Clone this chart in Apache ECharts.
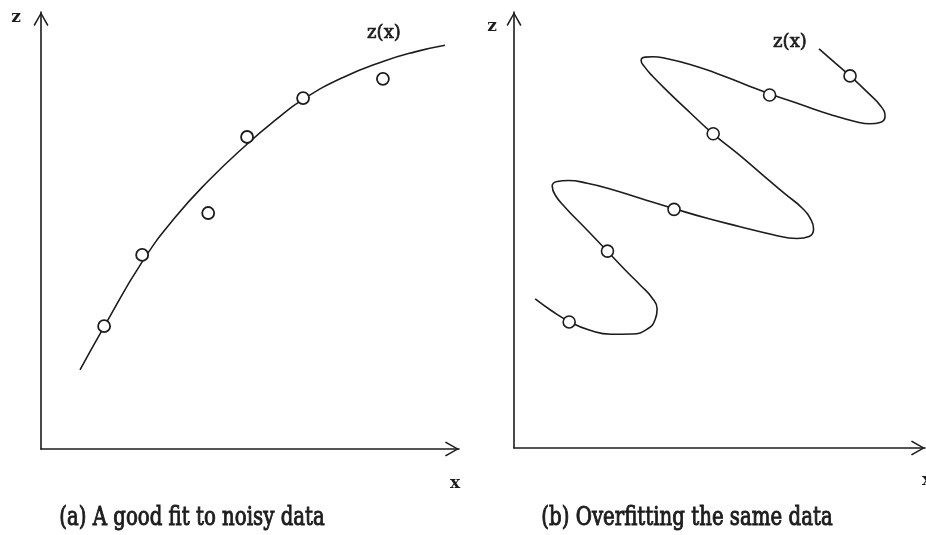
<!DOCTYPE html>
<html>
<head>
<meta charset="utf-8">
<style>
  html, body { margin: 0; padding: 0; background: #fff; }
  #chart { width: 926px; height: 535px; }
</style>
<script src="https://cdn.jsdelivr.net/npm/echarts@6/dist/echarts.min.js"></script>
</head>
<body>
<div id="chart"></div>
<script>
// Noisy observations (shared by both panels)
const pointX = [15.1, 24.2, 40.0, 49.3, 62.7, 81.8];
const pointZ = [28.1, 44.4, 54.0, 71.4, 80.3, 84.7];

// (a) smooth, well-behaved fit
const goodFitX = [9.33, 15.07, 24.16, 32.06, 39.95, 49.28, 55.98, 62.68, 72.25, 81.82, 89.47, 96.65];
const goodFitZ = [18.08, 27.96, 42.75, 52.95, 61.26, 69.74, 75.18, 79.99, 85.02, 88.68, 90.88, 92.39];

// (b) over-fitted curve that loops back and forth through every observation
const overFitX = [7.03, 10.83, 15.10, 19.85, 25.07, 30.06, 33.86, 35.52, 35.99, 34.81,
  31.96, 28.87, 23.89, 18.9, 14.16, 11.78, 11.07, 12.26, 14.87, 19.38,
  24.84, 31.96, 40.27, 47.86, 55.69, 63.29, 69.22, 72.07, 73.14, 72.55,
  70.41, 66.37, 60.68, 54.98, 49.28, 43.83, 38.6, 34.81, 33.03, 32.19,
  33.14, 35.04, 37.89, 43.83, 50.47, 56.88, 62.81, 69.94, 77.06, 82.99,
  86.55, 88.92, 90.11, 89.16, 85.84, 81.8, 78.24, 74.44];
const overFitZ = [33.38, 30.74, 28.21, 26.25, 25.26, 25.33, 26.6, 28.67, 31.08, 33.61,
  36.61, 39.6, 44.66, 49.72, 54.44, 57.31, 59.39, 60.42, 60.65, 60.01,
  58.7, 56.56, 54.09, 51.95, 50.02, 48.23, 47.3, 47.77, 49.49, 51.56,
  54.32, 57.54, 62.24, 66.93, 71.35, 76.23, 81.04, 84.72, 86.77, 88.26,
  89.02, 89.11, 88.77, 87.34, 85.16, 82.74, 80.55, 78.18, 75.84, 74.23,
  73.7, 74.0, 75.38, 77.68, 81.01, 84.7, 87.69, 90.91];

const captionA = '(a) A good fit to noisy data';
const captionB = '(b) Overfitting the same data';
const curveName = 'z(x)';
const xName = 'x';
const zName = 'z';

const ink = '#1c1c1c';
const serif = '"DejaVu Serif", "Liberation Serif", serif';
// open chevron arrow head (points up before the axis rotates it)
const chevron = 'path://M8,0 L16,14 L14.6,15 L8,3 L1.4,15 L0,14 Z';

function zip(xs, ys) { return xs.map((x, i) => [x, ys[i]]); }

function axisBase(min, max) {
  return {
    type: 'value', min: min, max: max,
    axisLine: {
      show: true, onZero: false,
      symbol: ['none', chevron], symbolSize: [15, 15], symbolOffset: [0, -7],
      lineStyle: { color: ink, width: 1.6 }
    },
    axisTick: { show: false }, axisLabel: { show: false }, splitLine: { show: false }
  };
}

// free-standing text; a thin outline in the ink colour gives a medium weight
function label(text, x, y, size, weight, sx, outline) {
  return {
    type: 'text', x: x, y: y, scaleX: sx || 1, z: 100,
    style: {
      text: text, fill: ink,
      stroke: outline ? ink : null, lineWidth: outline || 0,
      font: (weight || 'normal') + ' ' + size + 'px ' + serif,
      align: 'center', verticalAlign: 'middle'
    }
  };
}

const chart = echarts.init(document.getElementById('chart'), null, { renderer: 'canvas' });
chart.setOption({
  backgroundColor: '#ffffff',
  animation: false,
  grid: [
    { left: 41, top: 12, width: 418, height: 437 },
    { left: 514, top: 12, width: 411, height: 436 }
  ],
  xAxis: [
    Object.assign(axisBase(0, 100), { gridIndex: 0 }),
    Object.assign(axisBase(2, 99.6), { gridIndex: 1 })
  ],
  yAxis: [
    Object.assign(axisBase(0, 100), { gridIndex: 0 }),
    Object.assign(axisBase(-0.9, 99.4), { gridIndex: 1 })
  ],
  series: [
    {
      type: 'line', xAxisIndex: 0, yAxisIndex: 0, data: zip(goodFitX, goodFitZ),
      smooth: 0.5, showSymbol: false, silent: true,
      lineStyle: { color: ink, width: 1.6 }
    },
    {
      type: 'line', xAxisIndex: 1, yAxisIndex: 1, data: zip(overFitX, overFitZ),
      smooth: 0.5, showSymbol: false, silent: true,
      lineStyle: { color: ink, width: 1.6 }
    },
    {
      type: 'scatter', xAxisIndex: 0, yAxisIndex: 0, data: zip(pointX, pointZ),
      symbol: 'circle', symbolSize: 12, z: 5,
      itemStyle: { color: '#ffffff', borderColor: ink, borderWidth: 1.8, opacity: 1 }
    },
    {
      type: 'scatter', xAxisIndex: 1, yAxisIndex: 1, data: zip(pointX, pointZ),
      symbol: 'circle', symbolSize: 12, z: 5,
      itemStyle: { color: '#ffffff', borderColor: ink, borderWidth: 1.6, opacity: 1 }
    }
  ],
  graphic: [
    label(zName, 16, 18, 17, 'bold'),
    label(zName, 492, 27, 17, 'bold'),
    label(xName, 455, 484, 17, 'bold'),
    label(xName, 927, 481, 17, 'bold'),
    label(curveName, 384, 33, 19, 'normal', 0.95, 0.7),
    label(curveName, 790, 42, 19, 'normal', 0.95, 0.7),
    label(captionA, 192, 518, 26, 'normal', 0.76, 1.0),
    label(captionB, 687, 518, 26, 'normal', 0.76, 1.0)
  ]
});
</script>
</body>
</html>
